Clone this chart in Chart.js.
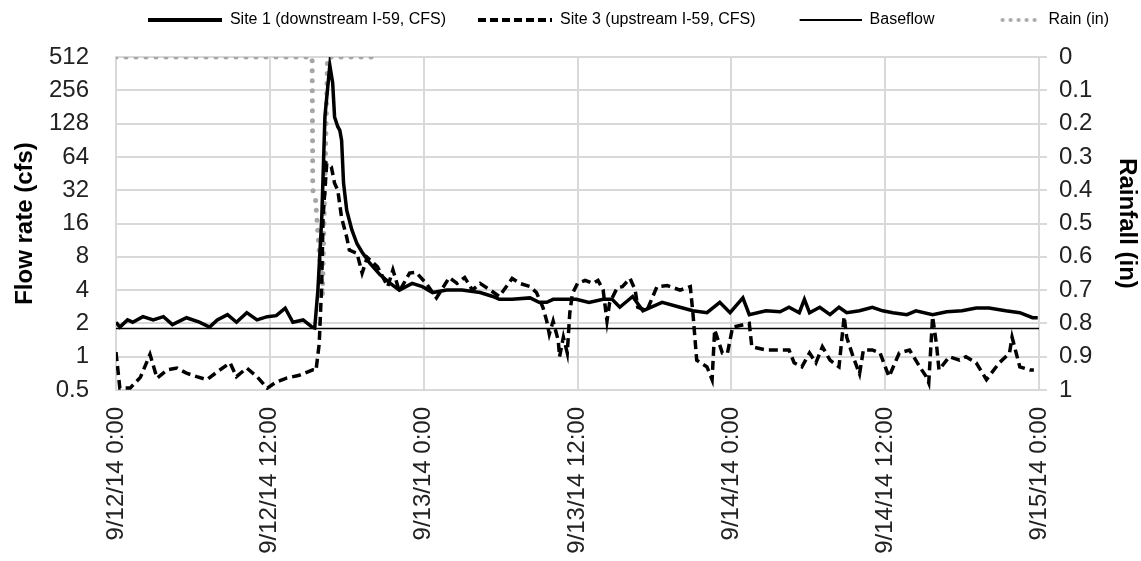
<!DOCTYPE html>
<html>
<head>
<meta charset="utf-8">
<script src="https://cdn.jsdelivr.net/npm/chart.js@4.4.1/dist/chart.umd.min.js"></script>
<style>
  html, body { margin: 0; padding: 0; background: #fff; }
  #wrap { position: relative; width: 1141px; height: 561px; }
</style>
</head>
<body>
<div id="wrap"><canvas id="flowChart"></canvas></div>
<script>
// hours since 9/12/14 0:00
const xTickLabels = ['9/12/14 0:00', '9/12/14 12:00', '9/13/14 0:00', '9/13/14 12:00',
                     '9/14/14 0:00', '9/14/14 12:00', '9/15/14 0:00'];
const flowTicks = [0.5, 1, 2, 4, 8, 16, 32, 64, 128, 256, 512];
const rainTicks = [0, 0.1, 0.2, 0.3, 0.4, 0.5, 0.6, 0.7, 0.8, 0.9, 1];

// Site 1 (downstream I-59), cfs
const site1Hours = [0, 0.3, 0.9, 1.3, 2.1, 2.9, 3.7, 4.4, 5.5, 6.5, 7.3, 7.9, 8.7, 9.4, 10.2, 11.0, 11.8,
  12.5, 13.2, 13.8, 14.6, 15.3, 15.5, 15.75, 16.05, 16.3, 16.68, 16.9, 17.05, 17.3, 17.46, 17.6, 17.75,
  18.0, 18.4, 18.8, 19.2, 19.8, 20.6, 21.4, 22.1, 23.1, 23.9, 24.7, 25.8, 27.0, 28.4, 29.4, 29.9, 30.9,
  32.3, 33.0, 33.6, 34.1, 34.8, 35.9, 36.9, 38.0, 38.7, 39.3, 40.3, 41.1, 42.6, 44.0, 45.0, 46.1, 47.1,
  47.9, 48.9, 49.4, 50.7, 51.8, 52.5, 53.3, 53.7, 54.1, 54.9, 55.7, 56.4, 57.0, 58.0, 59.0, 59.8, 60.6,
  61.7, 62.4, 63.7, 64.8, 66.0, 67.1, 68.1, 69.4, 70.5, 71.5, 71.9];
const site1Flow = [2.05, 1.85, 2.15, 2.05, 2.3, 2.15, 2.3, 1.95, 2.25, 2.05, 1.85, 2.15, 2.4, 2.05, 2.5, 2.15, 2.3,
  2.35, 2.75, 2.05, 2.15, 1.85, 1.82, 4.0, 18, 150, 430, 300, 147, 120, 111, 90, 37,
  21, 14, 10.5, 8.8, 7.0, 5.5, 4.6, 4.0, 4.6, 4.3, 3.8, 4.0, 4.0, 3.8, 3.5, 3.3, 3.3,
  3.4, 3.1, 3.1, 3.3, 3.3, 3.3, 3.1, 3.3, 3.3, 2.8, 3.5, 2.6, 3.1, 2.8, 2.6, 2.5, 3.1,
  2.5, 3.4, 2.4, 2.6, 2.55, 2.8, 2.5, 3.3, 2.5, 2.8, 2.4, 2.8, 2.5, 2.6, 2.8, 2.6, 2.5,
  2.4, 2.6, 2.4, 2.55, 2.6, 2.75, 2.75, 2.6, 2.5, 2.25, 2.25];

// Site 3 (upstream I-59), cfs
const site3Hours = [0, 0.3, 1.1, 1.9, 2.65, 3.2, 4.0, 4.75, 5.5, 6.3, 7.1, 7.9, 8.9, 9.4, 10.2, 11.0, 11.8,
  12.5, 13.3, 14.3, 15.35, 15.6, 15.85, 16.05, 16.15, 16.44, 16.8, 17.05, 17.3, 17.6, 18.0, 18.2, 18.8,
  19.2, 19.6, 20.4, 21.2, 21.6, 22.1, 22.9, 23.4, 24.2, 25.0, 26.0, 26.6, 27.2, 27.8, 28.4, 29.2, 29.9,
  30.9, 31.5, 32.3, 32.8, 33.3, 33.6, 33.8, 34.1, 34.5, 34.6, 34.9, 35.2, 35.4, 35.6, 36.0, 36.6, 37.2,
  37.6, 38.0, 38.3, 38.5, 39.1, 39.5, 40.1, 40.5, 40.7, 41.4, 42.2, 43.0, 44.0, 44.8, 45.0, 45.3, 46.1,
  46.5, 46.7, 47.3, 47.7, 48.1, 49.4, 49.6, 50.7, 52.5, 52.9, 53.5, 54.1, 54.6, 55.1, 55.7, 56.4, 56.8,
  57.0, 57.5, 58.0, 58.3, 59.0, 59.6, 60.3, 61.1, 61.9, 62.7, 63.2, 63.4, 63.7, 64.0, 64.2, 65.0, 65.8,
  66.3, 67.1, 67.9, 68.9, 69.7, 69.9, 70.5, 71.3, 71.6];
const site3Flow = [1.1, 0.52, 0.52, 0.65, 1.05, 0.64, 0.76, 0.79, 0.71, 0.66, 0.62, 0.73, 0.88, 0.66, 0.79, 0.66, 0.52,
  0.59, 0.64, 0.68, 0.76, 0.75, 1.3, 4.6, 18, 56, 52, 37, 32, 18, 12, 9.2, 8.6,
  5.7, 7.9, 6.5, 4.3, 6.1, 3.9, 5.7, 5.8, 4.6, 3.4, 5.2, 4.6, 5.2, 4.0, 4.6, 4.0, 3.5,
  5.1, 4.6, 4.3, 3.8, 2.8, 2.1, 1.6, 2.1, 1.4, 1.0, 1.5, 1.08, 2.5, 3.7, 4.6, 4.9, 4.6,
  4.9, 4.0, 2.1, 3.05, 4.2, 4.3, 5.1, 4.0, 2.8, 2.6, 4.3, 4.4, 4.0, 4.3, 2.5, 0.93, 0.81,
  0.62, 1.75, 1.08, 1.08, 1.85, 2.0, 1.23, 1.15, 1.15, 0.88, 0.81, 1.08, 0.88, 1.23, 0.93, 0.81, 2.3,
  1.5, 1.0, 0.7, 1.15, 1.15, 1.08, 0.66, 1.08, 1.15, 0.81, 0.66, 0.58, 2.3, 1.3, 0.76, 1.0, 0.93,
  1.0, 0.88, 0.62, 0.88, 1.08, 1.5, 0.81, 0.76, 0.76];

// Baseflow, cfs
const baseHours = [0, 72];
const baseFlow = [1.8, 1.8];

// Rain (in)
const rainHours = [0, 15.3, 15.35, 15.55, 16.1, 16.5, 20.2];
const rainInches = [0, 0, 0.40, 0.42, 0.72, 0, 0];

const toPoints = (xs, ys) => xs.map((x, i) => ({ x: x, y: ys[i] }));

// little canvases used as legend samples
function legendSample(width, color, lineWidth, dash, cap, startX) {
  const c = document.createElement('canvas');
  c.width = width;
  c.height = 10;
  const g = c.getContext('2d');
  g.strokeStyle = color;
  g.lineWidth = lineWidth;
  g.lineCap = cap || 'butt';
  g.setLineDash(dash || []);
  g.beginPath();
  g.moveTo(startX || 0, 5);
  g.lineTo(width, 5);
  g.stroke();
  return c;
}

const axisFont = { family: "'Liberation Sans', Arial, sans-serif", size: 24 };
const titleFont = { family: "'Liberation Sans', Arial, sans-serif", size: 24, weight: 'bold' };
const gridColor = '#d9d9d9';

// extra room under the legend
const legendSpacer = {
  id: 'legendSpacer',
  beforeInit(chart) {
    const fit = chart.legend.fit;
    chart.legend.fit = function() {
      fit.bind(chart.legend)();
      this.height += 19;
    };
  }
};

const ctx = document.getElementById('flowChart').getContext('2d');
new Chart(ctx, {
  type: 'line',
  data: {
    datasets: [{
      label: 'Site 1 (downstream I-59, CFS)',
      data: toPoints(site1Hours, site1Flow),
      borderColor: '#000',
      borderWidth: 3.5,
      pointRadius: 0,
      pointStyle: legendSample(74, '#000', 4),
      tension: 0,
      yAxisID: 'y'
    }, {
      label: 'Site 3 (upstream I-59, CFS)',
      data: toPoints(site3Hours, site3Flow),
      borderColor: '#000',
      borderWidth: 3.5,
      borderDash: [9, 5],
      pointRadius: 0,
      pointStyle: legendSample(74, '#000', 4, [8, 4]),
      tension: 0,
      yAxisID: 'y'
    }, {
      label: 'Baseflow',
      data: toPoints(baseHours, baseFlow),
      borderColor: '#000',
      borderWidth: 1.5,
      pointRadius: 0,
      pointStyle: legendSample(74, '#000', 2, null, null, 12),
      yAxisID: 'y'
    }, {
      label: 'Rain (in)',
      data: toPoints(rainHours, rainInches),
      borderColor: '#a6a6a6',
      borderWidth: 5,
      borderDash: [0, 10],
      borderCapStyle: 'round',
      pointRadius: 0,
      pointStyle: legendSample(74, '#a6a6a6', 4, [0, 8], 'round', 36),
      tension: 0,
      yAxisID: 'y2'
    }]
  },
  plugins: [legendSpacer],
  options: {
    responsive: true,
    maintainAspectRatio: false,
    animation: false,
    layout: { padding: { top: -20, left: 0, right: 0, bottom: 0 } },
    plugins: {
      legend: {
        display: true,
        position: 'top',
        align: 'end',
        labels: {
          usePointStyle: true,
          pointStyleWidth: 74,
          color: '#000',
          padding: 32,
          font: { family: "'Liberation Sans', Arial, sans-serif", size: 16 }
        }
      },
      tooltip: { enabled: false }
    },
    scales: {
      x: {
        type: 'linear',
        min: 0,
        max: 72,
        afterBuildTicks: (scale) => {
          scale.ticks = xTickLabels.map((_, i) => ({ value: i * 12 }));
        },
        afterFit: (scale) => { scale.height = 171; },
        grid: { color: gridColor, lineWidth: 2, drawTicks: false },
        border: { color: gridColor, width: 2 },
        ticks: {
          autoSkip: false,
          minRotation: 90,
          maxRotation: 90,
          padding: 17,
          color: '#222',
          font: axisFont,
          callback: (value) => xTickLabels[Math.round(value / 12)]
        }
      },
      y: {
        type: 'logarithmic',
        position: 'left',
        min: 0.5,
        max: 512,
        afterBuildTicks: (scale) => {
          scale.ticks = flowTicks.map(v => ({ value: v }));
        },
        afterFit: (scale) => { scale.width = 116; },
        grid: { color: gridColor, lineWidth: 2, drawTicks: false },
        border: { color: gridColor, width: 2 },
        title: { display: true, text: 'Flow rate (cfs)', color: '#000', font: titleFont, padding: { top: 11, bottom: 0 } },
        ticks: {
          color: '#222',
          font: axisFont,
          padding: 27,
          callback: (value) => String(value)
        }
      },
      y2: {
        type: 'linear',
        position: 'right',
        reverse: true,
        min: 0,
        max: 1,
        afterBuildTicks: (scale) => {
          scale.ticks = rainTicks.map(v => ({ value: v }));
        },
        afterFit: (scale) => { scale.width = 102; },
        grid: { drawOnChartArea: false, color: gridColor, lineWidth: 2, tickLength: 8 },
        border: { color: gridColor, width: 2 },
        title: { display: true, text: 'Rainfall (in)', color: '#000', font: titleFont, padding: { top: 0, bottom: 0 } },
        ticks: {
          color: '#222',
          font: axisFont,
          padding: 12,
          callback: (value) => String(value)
        }
      }
    }
  }
});
</script>
</body>
</html>
